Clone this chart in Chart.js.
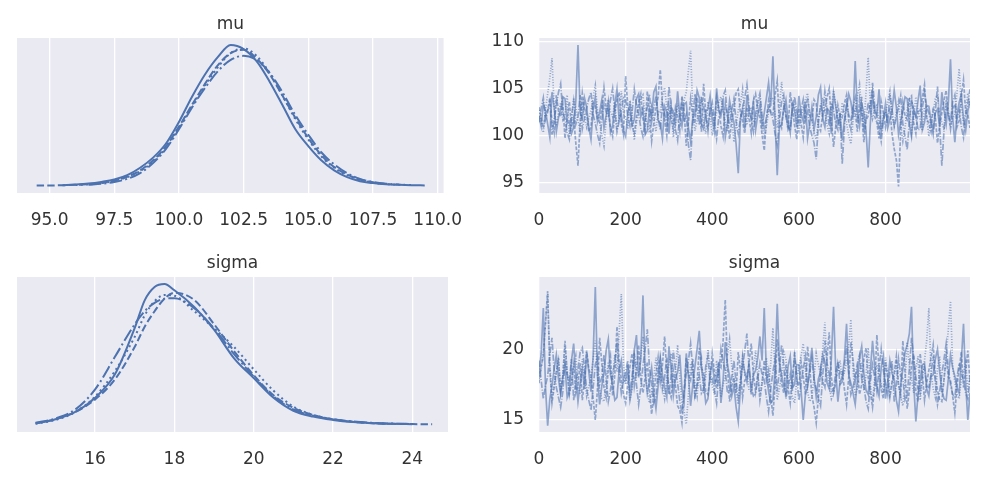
<!DOCTYPE html>
<html>
<head>
<meta charset="utf-8">
<script src="https://cdn.jsdelivr.net/npm/chart.js@4.4.0/dist/chart.umd.min.js"></script>
<style>
  html, body { margin: 0; padding: 0; background: #fff; }
  #wrap { position: relative; width: 987px; height: 481px; overflow: hidden; }
  canvas { position: absolute; }
</style>
</head>
<body>
<div id="wrap">
  <canvas id="muKde" width="480" height="240" style="left:0;top:0"></canvas>
  <canvas id="muTrace" width="507" height="240" style="left:480px;top:0"></canvas>
  <canvas id="sigmaKde" width="480" height="240" style="left:0;top:239px"></canvas>
  <canvas id="sigmaTrace" width="507" height="240" style="left:480px;top:239px"></canvas>
</div>
<script>
// ---- data ----
const muTitle = 'mu';
const sigmaTitle = 'sigma';

// density curves, one per chain (solid, dashed, dash-dot, dotted)
const muGrid = [94.5, 95, 95.5, 96, 96.5, 97, 97.5, 98, 98.5, 99, 99.5, 100, 100.5, 101, 101.5, 102,
  102.5, 103, 103.5, 104, 104.5, 105, 105.5, 106, 106.5, 107, 107.5, 108, 108.5, 109, 109.5];
const muKde0 = [null, null, 0.001, 0.002, 0.0035, 0.006, 0.0095, 0.016, 0.027, 0.042, 0.063, 0.095, 0.132, 0.165, 0.191, 0.209,
  0.203, 0.185, 0.155, 0.120, 0.084, 0.059, 0.038, 0.023, 0.013, 0.007, 0.0042, 0.0025, 0.0017, 0.0011, 0.0008];
const muKde1 = [0.0008, 0.0008, 0.001, 0.0017, 0.0027, 0.0046, 0.008, 0.0137, 0.023, 0.038, 0.059, 0.088, 0.120, 0.151, 0.179, 0.197,
  0.202, 0.189, 0.166, 0.134, 0.101, 0.071, 0.046, 0.028, 0.017, 0.0095, 0.0053, 0.0027, null, null, null];
const muKde2 = [null, null, null, null, 0.0017, 0.0032, 0.0059, 0.0105, 0.019, 0.034, 0.055, 0.084, 0.116, 0.145, 0.170, 0.187,
  0.193, 0.187, 0.168, 0.139, 0.105, 0.076, 0.050, 0.032, 0.019, 0.0105, 0.0059, 0.0034, 0.0021, null, null];
const muKde3 = [null, null, null, 0.0013, 0.0023, 0.0042, 0.0076, 0.013, 0.022, 0.036, 0.057, 0.086, 0.118, 0.149, 0.176, 0.197,
  0.204, 0.193, 0.168, 0.134, 0.099, 0.069, 0.044, 0.027, 0.016, 0.0088, 0.005, 0.0029, 0.0019, 0.0013, null];

const sigmaGrid = [14.5, 15, 15.5, 16, 16.5, 17, 17.25, 17.5, 17.75, 18, 18.5, 19, 19.5, 20, 20.5, 21, 21.5, 22, 22.5, 23, 23.5, 24, 24.5];
const sigmaKde0 = [0.0034, 0.0136, 0.031, 0.065, 0.121, 0.232, 0.298, 0.330, 0.337, 0.322, 0.282, 0.228, 0.160, 0.112, 0.065, 0.034, 0.020, 0.012, 0.0068, 0.0041, 0.0027, 0.0017, null];
const sigmaKde1 = [0.0041, 0.0136, 0.031, 0.061, 0.109, 0.187, 0.235, 0.272, 0.302, 0.316, 0.299, 0.241, 0.177, 0.119, 0.071, 0.041, 0.024, 0.0136, 0.0075, 0.0041, 0.0027, 0.002, 0.0017];
const sigmaKde2 = [0.0051, 0.0153, 0.037, 0.085, 0.163, 0.241, 0.272, 0.292, 0.302, 0.303, 0.279, 0.231, 0.170, 0.116, 0.068, 0.037, 0.022, 0.0136, 0.0085, 0.0051, 0.0034, 0.0024, null];
const sigmaKde3 = [0.003, 0.0119, 0.031, 0.068, 0.129, 0.211, 0.262, 0.296, 0.311, 0.309, 0.272, 0.231, 0.187, 0.133, 0.082, 0.044, 0.024, 0.0136, 0.0075, 0.0044, 0.0027, null, null];

// trace values, every 5th draw of each chain
const drawStep = 5;
const muTrace0 = [
  102.1, 101.0, 103.4, 102.6, 101.2, 99.8, 104.6, 103.0, 100.4, 101.9, 102.8, 104.1, 103.9, 101.3, 101.5, 100.2, 100.9, 103.7, 109.6, 102.4,
  101.8, 104.0, 103.0, 100.9, 99.6, 102.7, 104.1, 101.5, 102.5, 103.8, 100.8, 102.1, 103.6, 100.3, 101.1, 103.2, 104.9, 101.7, 102.2, 100.6,
  99.9, 102.4, 103.3, 101.1, 101.7, 103.9, 104.4, 102.0, 102.9, 100.1, 100.5, 102.8, 102.0, 104.6, 105.2, 101.6, 101.3, 99.7, 103.1, 102.5,
  100.2, 103.0, 102.6, 101.4, 104.7, 102.2, 101.0, 103.3, 103.5, 100.8, 99.4, 101.9, 102.3, 104.8, 104.0, 101.2, 100.7, 102.6, 102.8, 104.2,
  101.6, 100.4, 105.0, 102.7, 102.1, 103.5, 99.8, 101.3, 103.7, 102.4, 101.4, 99.1, 96.0, 101.8, 102.9, 100.7, 104.3, 102.5, 101.9, 103.6,
  100.6, 102.2, 103.2, 101.0, 102.4, 104.0, 105.6, 103.1, 108.4, 101.5, 95.8, 100.9, 101.2, 102.8, 103.8, 101.6, 100.3, 103.4, 102.7, 100.9,
  104.2, 102.3, 101.5, 103.6, 99.7, 101.2, 103.0, 100.6, 102.0, 104.3, 105.1, 101.8, 100.9, 102.9, 102.6, 100.2, 104.5, 103.1, 101.3, 102.0,
  99.5, 101.7, 102.9, 104.4, 103.6, 101.9, 107.9, 102.5, 101.0, 103.3, 102.4, 100.5, 96.6, 101.4, 104.0, 102.7, 102.2, 104.9, 100.4, 101.8,
  103.4, 100.8, 101.7, 102.6, 104.8, 103.0, 100.1, 101.5, 102.5, 104.1, 103.9, 101.2, 99.9, 102.8, 102.0, 103.7, 105.3, 100.6, 101.4, 103.2,
  103.1, 101.6, 100.6, 102.4, 102.8, 100.9, 104.6, 102.7, 101.2, 103.5, 108.1, 101.9, 99.3, 102.2, 103.5, 104.4, 101.8, 100.5, 102.6, 103.7];
const muTrace1 = [
  103.0, 101.9, 100.8, 102.2, 102.7, 104.0, 101.5, 100.3, 104.3, 102.6, 102.0, 103.4, 99.7, 101.8, 103.6, 100.9, 101.9, 99.2, 96.8, 101.5,
  104.5, 102.8, 102.3, 100.4, 100.9, 103.5, 103.1, 101.7, 101.4, 102.9, 105.1, 103.0, 102.6, 100.8, 99.9, 102.4, 103.8, 104.6, 101.2, 100.1,
  106.3, 103.1, 102.4, 101.0, 100.2, 102.0, 103.5, 104.4, 101.8, 100.6, 104.7, 102.2, 99.4, 101.3, 102.9, 104.1, 107.0, 103.3, 101.6, 100.0,
  103.2, 101.8, 100.7, 103.0, 102.1, 100.5, 104.2, 102.6, 98.9, 101.4, 103.9, 102.0, 101.3, 104.0, 102.7, 100.4, 105.5, 102.3, 100.5, 103.1,
  102.5, 101.2, 104.1, 102.9, 101.0, 99.9, 103.3, 102.1, 99.6, 101.6, 102.8, 104.5, 104.9, 102.4, 101.5, 100.2, 103.0, 101.8, 100.3, 103.6,
  104.4, 102.7, 101.9, 100.1, 98.4, 101.7, 103.7, 102.5, 102.2, 104.3, 105.8, 101.4, 100.8, 103.0, 102.4, 100.6, 104.6, 102.9, 101.1, 99.6,
  102.9, 101.3, 99.8, 102.6, 104.0, 102.1, 101.6, 103.8, 103.4, 101.0, 100.5, 102.3, 102.7, 104.1, 105.0, 101.6, 98.8, 100.9, 103.2, 102.0,
  101.9, 103.4, 104.3, 101.5, 100.6, 102.8, 102.5, 100.4, 103.8, 102.2, 99.3, 101.6, 102.1, 103.5, 104.7, 102.0, 101.4, 99.7, 103.6, 102.4,
  100.9, 102.3, 102.8, 100.2, 98.6, 97.4, 94.6, 100.6, 103.5, 102.1, 101.7, 103.9, 104.2, 101.3, 100.2, 102.7, 102.6, 104.0, 105.4, 101.8,
  101.3, 100.4, 103.0, 101.9, 99.2, 101.1, 102.4, 103.7, 104.8, 102.3, 100.7, 102.9, 103.3, 100.9, 101.6, 104.2, 105.9, 102.5, 102.2, 100.8];
const muTrace2 = [
  101.4, 102.9, 104.0, 101.7, 102.5, 103.6, 100.1, 101.9, 103.2, 104.6, 105.5, 102.4, 101.8, 100.3, 99.6, 102.1, 103.7, 101.2, 102.0, 104.3,
  100.7, 101.8, 102.9, 103.9, 104.6, 102.2, 101.3, 100.1, 99.2, 101.6, 103.4, 102.5, 102.1, 103.8, 105.0, 102.6, 100.4, 101.5, 102.7, 104.0,
  103.8, 102.1, 101.0, 102.6, 104.9, 103.2, 102.3, 100.8, 99.9, 101.7, 103.0, 104.4, 101.5, 102.9, 104.2, 101.9, 100.6, 103.3, 102.4, 101.1,
  105.2, 103.0, 101.8, 100.6, 99.5, 102.3, 103.6, 101.4, 102.2, 99.0, 97.4, 101.6, 104.4, 102.7, 101.1, 103.8, 103.1, 101.9, 100.9, 102.5,
  103.5, 101.4, 99.7, 101.9, 102.6, 104.2, 104.8, 102.0, 101.2, 102.7, 103.9, 101.5, 100.2, 101.8, 102.8, 104.0, 105.4, 103.1, 101.6, 100.4,
  102.3, 103.7, 104.5, 102.1, 100.8, 101.9, 103.1, 102.4, 101.7, 100.2, 99.0, 101.5, 103.6, 104.3, 102.0, 101.0, 100.5, 102.8, 104.1, 102.6,
  101.4, 102.7, 103.8, 101.6, 102.5, 100.9, 100.0, 99.2, 97.5, 101.3, 103.3, 102.1, 104.7, 102.9, 101.0, 103.5, 102.8, 101.2, 100.6, 102.4,
  97.0, 100.8, 103.7, 102.2, 101.5, 103.0, 104.0, 101.7, 102.3, 104.1, 100.3, 101.8, 103.5, 102.6, 105.6, 103.2, 101.9, 100.7, 99.4, 101.6,
  102.6, 101.3, 104.4, 102.8, 100.9, 102.0, 103.0, 104.2, 101.2, 99.9, 98.5, 101.4, 103.9, 102.5, 102.1, 100.6, 100.7, 102.9, 104.6, 103.0,
  102.4, 101.2, 100.1, 102.6, 105.2, 101.0, 96.8, 100.5, 103.1, 102.2, 101.5, 103.6, 104.3, 101.8, 102.7, 100.9, 99.8, 102.1, 103.4, 104.9];
const muTrace3 = [
  102.7, 101.5, 100.3, 102.8, 104.4, 106.1, 108.2, 103.0, 101.0, 102.4, 103.5, 101.7, 102.2, 104.3, 99.8, 101.2, 104.0, 102.9, 101.6, 100.5,
  103.3, 102.1, 100.9, 101.8, 102.6, 104.0, 105.3, 102.7, 101.4, 100.0, 98.9, 101.6, 103.8, 102.5, 102.0, 103.6, 100.6, 101.9, 104.7, 102.3,
  101.9, 100.7, 103.7, 102.4, 99.5, 101.3, 102.8, 103.9, 104.3, 102.0, 101.2, 100.3, 103.0, 101.8, 100.4, 102.6, 102.5, 104.2, 105.1, 102.9,
  101.7, 103.2, 99.8, 101.1, 103.4, 102.0, 102.1, 103.8, 104.6, 106.9, 109.0, 102.7, 100.5, 101.6, 102.9, 104.1, 101.3, 100.2, 103.6, 102.2,
  100.0, 101.7, 102.4, 103.5, 104.1, 102.6, 101.5, 100.4, 103.2, 101.9, 99.3, 101.0, 102.7, 103.4, 104.9, 102.1, 101.1, 102.8, 103.0, 101.4,
  101.8, 103.1, 104.2, 101.6, 99.7, 101.0, 102.5, 104.0, 103.9, 102.3, 100.8, 102.9, 105.7, 103.4, 102.2, 100.6, 101.0, 102.7, 103.4, 101.3,
  100.5, 102.0, 102.9, 103.8, 104.5, 102.2, 101.6, 100.3, 99.6, 101.7, 103.1, 104.0, 102.4, 101.1, 100.2, 102.6, 104.8, 103.3, 101.9, 100.8,
  103.5, 102.4, 101.3, 100.0, 99.1, 101.5, 102.6, 104.2, 105.4, 102.7, 100.9, 104.6, 108.3, 103.0, 101.8, 102.9, 103.2, 101.4, 100.6, 102.3,
  102.3, 103.6, 104.7, 102.0, 101.1, 102.5, 103.6, 101.2, 99.4, 100.8, 102.8, 104.0, 100.3, 101.9, 104.1, 102.6, 101.7, 100.5, 103.0, 102.1,
  99.9, 101.8, 102.5, 103.9, 104.3, 102.0, 101.4, 100.6, 103.8, 102.7, 100.8, 101.9, 102.1, 104.6, 107.1, 103.2, 101.3, 102.4, 104.5, 103.0];

const sigmaTrace0 = [
  18.2, 19.7, 22.9, 17.3, 14.6, 16.5, 17.4, 18.6, 19.6, 17.9, 16.8, 18.0, 18.9, 16.6, 17.1, 19.2, 20.4, 18.1, 16.3, 17.6,
  18.6, 17.2, 19.8, 18.4, 17.0, 19.5, 24.4, 18.1, 16.1, 17.4, 18.3, 19.9, 20.7, 18.2, 17.5, 16.4, 16.6, 18.5, 19.2, 17.7,
  17.8, 18.9, 16.4, 17.5, 19.9, 21.0, 18.0, 19.3, 23.8, 18.4, 16.9, 17.7, 18.7, 16.9, 15.8, 17.4, 19.4, 18.2, 17.3, 16.6,
  20.2, 18.6, 16.7, 17.9, 18.4, 19.6, 17.2, 16.3, 19.7, 18.1, 16.0, 17.5, 18.8, 20.0, 21.3, 18.7, 17.6, 16.2, 16.5, 18.3,
  19.0, 17.6, 17.9, 19.1, 16.2, 17.8, 20.5, 18.9, 18.1, 16.7, 17.4, 15.9, 14.9, 17.2, 19.3, 18.4, 17.7, 19.0, 16.8, 18.2,
  18.5, 19.4, 20.9, 19.2, 22.9, 18.3, 17.0, 16.2, 16.4, 18.6, 23.2, 19.1, 18.2, 17.4, 16.9, 18.8, 19.5, 17.3, 17.5, 18.9,
  18.9, 17.1, 15.0, 16.8, 17.3, 18.7, 20.1, 18.0, 16.6, 17.9, 18.4, 19.6, 19.1, 17.6, 17.2, 19.4, 23.0, 18.5, 16.3, 17.7,
  18.0, 19.3, 21.8, 18.2, 17.6, 16.9, 16.1, 17.8, 19.4, 20.2, 18.3, 17.1, 16.8, 18.5, 20.6, 18.8, 17.4, 16.7, 18.7, 19.5,
  16.5, 17.7, 19.2, 18.3, 17.9, 16.4, 15.6, 17.5, 18.6, 19.8, 20.3, 21.1, 23.0, 17.6, 14.9, 16.8, 17.8, 18.9, 19.0, 17.2,
  16.7, 18.1, 18.2, 19.3, 20.0, 18.4, 17.1, 16.5, 16.4, 17.9, 19.6, 18.7, 18.1, 17.3, 16.9, 19.2, 21.8, 17.6, 15.0, 16.9];
const sigmaTrace1 = [
  17.6, 18.8, 19.5, 21.9, 24.1, 18.6, 16.2, 17.3, 18.4, 19.2, 17.0, 18.1, 20.6, 18.3, 16.8, 17.7, 18.9, 16.9, 17.5, 19.0,
  16.4, 17.8, 19.9, 18.6, 18.1, 16.5, 15.0, 17.2, 20.8, 19.0, 17.3, 16.6, 18.6, 19.5, 16.7, 18.2, 21.6, 19.1, 17.9, 16.8,
  16.2, 17.5, 18.8, 19.7, 17.4, 18.5, 20.3, 17.9, 16.9, 18.0, 19.1, 17.2, 15.4, 16.8, 18.2, 19.4, 17.7, 18.9, 20.9, 18.4,
  17.1, 16.6, 18.5, 17.4, 16.0, 15.7, 14.8, 17.1, 19.4, 18.2, 17.8, 19.3, 16.5, 17.6, 20.1, 18.7, 18.3, 17.0, 16.8, 18.0,
  19.7, 18.4, 17.2, 18.9, 18.7, 20.6, 23.5, 18.8, 16.3, 17.4, 18.0, 16.9, 19.8, 18.5, 16.6, 17.8, 17.9, 19.1, 20.4, 18.2,
  17.0, 18.3, 16.4, 17.6, 19.2, 17.8, 18.5, 16.7, 15.3, 17.5, 20.7, 19.0, 17.6, 16.9, 18.9, 17.3, 16.2, 18.1, 19.5, 17.9,
  17.4, 19.1, 18.1, 16.8, 20.2, 18.7, 16.7, 15.9, 14.8, 16.6, 18.6, 17.7, 17.3, 19.4, 21.2, 18.0, 16.9, 17.6, 19.0, 18.3,
  18.4, 17.2, 16.1, 18.0, 20.5, 19.2, 17.7, 18.6, 16.8, 17.5, 19.3, 20.1, 18.0, 16.9, 15.9, 17.4, 21.0, 18.6, 17.2, 16.5,
  19.1, 17.9, 16.6, 17.7, 18.3, 19.5, 17.5, 16.8, 20.6, 18.4, 15.8, 17.1, 18.8, 19.6, 17.0, 16.3, 19.7, 18.2, 16.4, 17.6,
  18.5, 19.4, 20.3, 18.1, 17.1, 16.4, 16.3, 17.9, 19.4, 18.0, 17.8, 16.7, 15.5, 17.4, 18.6, 19.8, 17.3, 18.4, 19.9, 17.7];
const sigmaTrace2 = [
  19.2, 17.8, 16.5, 17.4, 18.1, 19.6, 20.8, 18.5, 17.3, 16.6, 15.9, 17.0, 19.0, 18.2, 17.7, 19.3, 16.4, 17.6, 18.6, 19.8,
  20.1, 18.7, 17.2, 16.4, 15.7, 17.3, 18.9, 19.5, 17.5, 18.0, 19.6, 17.9, 16.3, 17.1, 18.2, 19.1, 20.5, 18.3, 16.9, 17.8,
  18.4, 19.2, 17.0, 18.1, 19.7, 17.5, 16.1, 17.3, 18.8, 20.0, 21.4, 18.7, 17.4, 16.2, 16.6, 18.4, 19.3, 17.2, 18.0, 19.4,
  16.8, 18.1, 19.9, 18.5, 17.6, 16.3, 15.5, 17.0, 18.3, 19.2, 20.4, 18.6, 16.7, 17.4, 18.1, 16.9, 17.2, 18.8, 19.5, 17.7,
  17.9, 17.1, 16.2, 18.3, 20.0, 19.1, 18.5, 16.9, 17.1, 18.0, 19.2, 17.6, 16.6, 17.8, 18.7, 19.9, 21.1, 18.6, 17.3, 16.7,
  16.9, 17.9, 19.0, 18.2, 17.8, 16.6, 15.6, 17.2, 18.4, 19.3, 17.0, 18.5, 20.3, 18.9, 16.5, 17.4, 18.2, 17.0, 19.8, 18.1,
  16.4, 17.6, 18.6, 19.5, 17.5, 18.3, 19.4, 17.8, 17.2, 16.5, 16.0, 18.1, 20.6, 19.0, 18.3, 17.0, 17.1, 18.4, 19.1, 17.5,
  17.7, 18.8, 20.2, 18.4, 16.8, 17.3, 18.1, 19.0, 19.6, 17.9, 17.4, 16.3, 15.8, 17.7, 18.9, 18.0, 17.0, 18.6, 20.0, 18.5,
  17.6, 16.8, 18.4, 19.2, 16.3, 17.5, 19.3, 18.1, 17.9, 16.4, 16.7, 18.6, 20.8, 19.4, 18.0, 17.2, 16.9, 18.3, 18.7, 17.4,
  17.3, 18.2, 19.5, 17.6, 16.1, 17.0, 18.2, 19.3, 20.4, 18.6, 17.5, 16.8, 16.6, 18.0, 19.0, 18.3, 17.8, 16.9, 16.5, 17.9];
const sigmaTrace3 = [
  17.9, 18.6, 19.8, 21.7, 23.9, 18.9, 16.6, 17.5, 18.3, 19.4, 17.2, 18.1, 20.2, 18.5, 16.9, 17.6, 18.7, 19.5, 17.4, 16.8,
  19.3, 18.0, 16.7, 17.4, 18.0, 19.3, 20.6, 18.2, 17.1, 16.5, 16.3, 17.7, 19.1, 18.4, 17.8, 19.6, 18.4, 21.2, 23.9, 19.0,
  17.5, 18.3, 16.4, 17.2, 19.6, 18.7, 18.1, 19.5, 20.9, 18.6, 17.0, 16.2, 16.8, 18.0, 19.4, 17.6, 18.2, 17.3, 16.5, 17.9,
  18.9, 19.7, 17.3, 18.4, 20.3, 18.0, 16.2, 15.6, 14.7, 16.8, 19.0, 18.3, 17.6, 16.7, 18.5, 19.3, 16.9, 18.1, 20.0, 18.6,
  17.4, 16.8, 19.2, 18.1, 16.6, 17.5, 18.0, 19.6, 20.7, 18.8, 17.7, 16.9, 16.1, 17.8, 19.5, 18.2, 18.3, 17.1, 17.0, 18.5,
  19.9, 18.2, 16.8, 17.7, 18.6, 19.4, 17.3, 19.0, 21.5, 18.3, 16.4, 17.2, 18.1, 19.8, 19.3, 17.9, 17.5, 16.6, 16.2, 17.8,
  18.8, 19.5, 20.4, 18.6, 17.0, 16.3, 16.6, 18.0, 19.7, 18.9, 18.2, 20.0, 21.9, 18.7, 17.4, 16.5, 16.9, 17.8, 18.5, 19.2,
  17.8, 18.4, 19.0, 20.3, 22.1, 18.5, 16.7, 17.3, 18.4, 19.1, 17.1, 18.2, 20.1, 17.5, 16.3, 17.9, 18.9, 18.0, 17.6, 16.9,
  19.4, 18.1, 16.8, 17.6, 18.1, 19.0, 17.5, 16.6, 16.0, 17.7, 20.5, 18.8, 17.9, 16.9, 18.6, 19.5, 16.4, 17.8, 19.2, 20.6,
  22.9, 18.4, 17.2, 16.6, 18.7, 19.5, 16.9, 17.8, 19.6, 21.4, 23.4, 18.7, 17.7, 16.8, 16.5, 17.9, 18.3, 19.1, 17.0, 18.2];

// tick labels
const muKdeTicks = [95, 97.5, 100, 102.5, 105, 107.5, 110];
const sigmaKdeTicks = [16, 18, 20, 22, 24];
const drawTicks = [0, 200, 400, 600, 800];
const muTraceTicks = [95, 100, 105, 110];
const sigmaTraceTicks = [15, 20];

// ---- styling ----
const BLUE = '#4c72b0';
const TRACE_BLUE = 'rgba(76,114,176,0.58)';
const TEXT = '#333333';
const FONT = { family: 'DejaVu Sans', size: 17, weight: 'normal' };
const KDE_DASH = [[], [7.4, 3.2], [12.8, 3.2, 2, 3.2], [2, 3.3]];
const TRACE_DASH = [[], [3.7, 1.6], [6.4, 1.6, 1, 1.6], [1, 1.65]];

const panelBg = {
  id: 'panelBg',
  beforeDraw(chart) {
    const { ctx, chartArea: a } = chart;
    ctx.save();
    ctx.fillStyle = '#eaeaf2';
    ctx.fillRect(a.left, a.top, a.right - a.left, a.bottom - a.top);
    ctx.restore();
  }
};

function fixTicks(list) {
  return scale => { scale.ticks = list.map(v => ({ value: v })); };
}

function xScale(min, max, ticks, fmt) {
  return {
    type: 'linear', min: min, max: max,
    afterBuildTicks: fixTicks(ticks),
    afterFit: s => { s.height = 47; },
    border: { display: false },
    grid: { color: '#ffffff', lineWidth: 1.3, drawTicks: false },
    ticks: { color: TEXT, font: FONT, padding: 17.5, autoSkip: false, maxRotation: 0, callback: fmt }
  };
}

function titleOpts(text) {
  return {
    display: true, text: text, color: TEXT, font: FONT, fullSize: false,
    padding: { top: 14, bottom: 3.6 }
  };
}

function kdeChart(id, title, grid, chains, xMin, xMax, ticks, fmt, yMax) {
  new Chart(document.getElementById(id), {
    type: 'line',
    data: {
      datasets: chains.map((c, k) => ({
        data: grid.map((x, i) => ({ x: x, y: c[i] })),
        borderColor: BLUE,
        borderWidth: 2,
        borderDash: KDE_DASH[k],
        pointRadius: 0,
        cubicInterpolationMode: 'monotone',
        fill: false
      }))
    },
    options: {
      responsive: false,
      animation: false,
      layout: { padding: { left: 17, right: 32, top: 0, bottom: 0 } },
      plugins: { legend: { display: false }, tooltip: { enabled: false }, title: titleOpts(title) },
      scales: {
        x: xScale(xMin, xMax, ticks, fmt),
        y: { type: 'linear', display: false, min: -yMax * 0.05, max: yMax * 1.05 }
      }
    },
    plugins: [panelBg]
  });
}

function traceChart(id, title, chains, yMin, yMax, yTicks) {
  const xs = chains[0].map((v, i) => i * drawStep);
  new Chart(document.getElementById(id), {
    type: 'line',
    data: {
      datasets: chains.map((c, k) => ({
        data: c.map((v, i) => ({ x: xs[i], y: v })),
        borderColor: TRACE_BLUE,
        borderWidth: 1.7,
        borderDash: TRACE_DASH[k],
        pointRadius: 0,
        fill: false
      }))
    },
    options: {
      responsive: false,
      animation: false,
      layout: { padding: { left: 0, right: 17, top: 0, bottom: 0 } },
      plugins: { legend: { display: false }, tooltip: { enabled: false }, title: titleOpts(title) },
      scales: {
        x: xScale(0, xs[xs.length - 1], drawTicks, v => String(v)),
        y: {
          type: 'linear', min: yMin, max: yMax,
          afterBuildTicks: fixTicks(yTicks),
          afterFit: s => { s.width = 59; },
          border: { display: false },
          grid: { color: '#ffffff', lineWidth: 1.3, drawTicks: false },
          ticks: { color: TEXT, font: FONT, padding: 15, callback: v => String(v) }
        }
      }
    },
    plugins: [panelBg]
  });
}

kdeChart('muKde', muTitle, muGrid, [muKde0, muKde1, muKde2, muKde3], 93.74, 110.23, muKdeTicks, v => v.toFixed(1), 0.209);
traceChart('muTrace', muTitle, [muTrace0, muTrace1, muTrace2, muTrace3], 93.9, 110.35, muTraceTicks);
kdeChart('sigmaKde', sigmaTitle, sigmaGrid, [sigmaKde0, sigmaKde1, sigmaKde2, sigmaKde3], 14.03, 24.9, sigmaKdeTicks, v => String(v), 0.337);
traceChart('sigmaTrace', sigmaTitle, [sigmaTrace0, sigmaTrace1, sigmaTrace2, sigmaTrace3], 14.15, 25.1, sigmaTraceTicks);
</script>
</body>
</html>
